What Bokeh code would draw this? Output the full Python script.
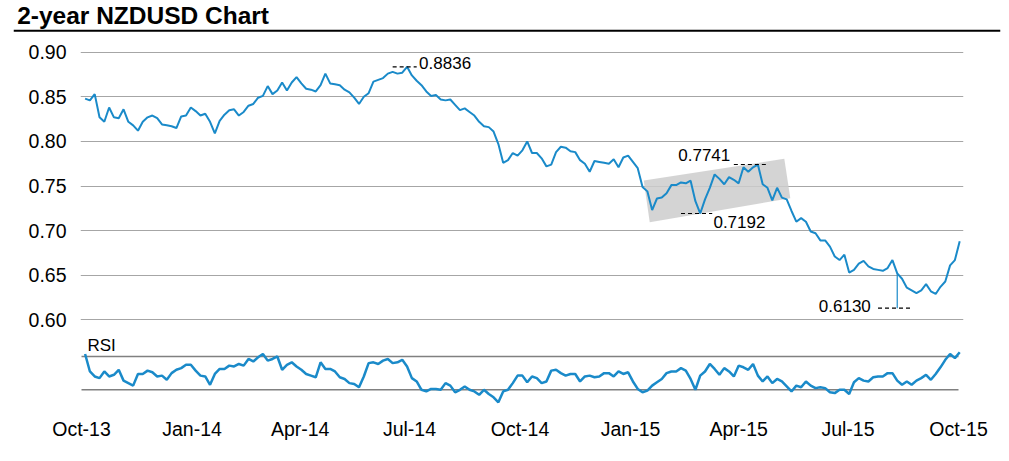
import pandas as pd
from bokeh.plotting import figure
from bokeh.models import Range1d, FixedTicker, PrintfTickFormatter, Label, Span
from bokeh.layouts import column
from bokeh.embed import file_html
from bokeh.resources import INLINE

# ---------------- data ----------------
title_text = "2-year NZDUSD Chart"
dates = pd.date_range("2013-10-04", periods=183, freq="4D")

price = [
    0.848, 0.846, 0.853, 0.827, 0.822, 0.838, 0.827, 0.826, 0.836, 0.822,
    0.818, 0.812, 0.822, 0.827, 0.829, 0.826, 0.819, 0.818, 0.817, 0.815,
    0.828, 0.829, 0.838, 0.834, 0.829, 0.831, 0.822, 0.809, 0.823, 0.830,
    0.835, 0.836, 0.829, 0.833, 0.840, 0.842, 0.849, 0.851, 0.862, 0.853,
    0.857, 0.866, 0.857, 0.866, 0.872, 0.865, 0.859, 0.858, 0.856, 0.863,
    0.876, 0.865, 0.864, 0.863, 0.858, 0.855, 0.849, 0.842, 0.850, 0.854,
    0.867, 0.869, 0.871, 0.876, 0.878, 0.876, 0.877, 0.8836, 0.874, 0.868,
    0.863, 0.856, 0.851, 0.852, 0.847, 0.846, 0.847, 0.841, 0.835, 0.837,
    0.833, 0.829, 0.822, 0.817, 0.816, 0.811, 0.797, 0.776, 0.779, 0.787,
    0.784, 0.790, 0.800, 0.787, 0.787, 0.781, 0.772, 0.774, 0.788, 0.794,
    0.793, 0.789, 0.788, 0.779, 0.775, 0.766, 0.778, 0.777, 0.776, 0.775,
    0.780, 0.771, 0.782, 0.784, 0.777, 0.770, 0.749, 0.744, 0.723, 0.736,
    0.737, 0.742, 0.751, 0.751, 0.754, 0.753, 0.756, 0.733, 0.7192, 0.735,
    0.748, 0.763, 0.758, 0.752, 0.760, 0.757, 0.753, 0.771, 0.766, 0.771,
    0.7741, 0.752, 0.748, 0.734, 0.748, 0.737, 0.735, 0.722, 0.710, 0.714,
    0.710, 0.699, 0.697, 0.689, 0.689, 0.682, 0.671, 0.667, 0.673, 0.653,
    0.656, 0.663, 0.666, 0.660, 0.657, 0.656, 0.655, 0.658, 0.667, 0.652,
    0.646, 0.636, 0.633, 0.630, 0.633, 0.640, 0.632, 0.629, 0.637, 0.643,
    0.661, 0.667, 0.688,
]

rsi = [
    73, 52, 46, 44, 52, 46, 48, 54, 41, 38,
    35, 49, 49, 53, 51, 46, 47, 42, 50, 54,
    56, 60, 60, 53, 47, 46, 36, 49, 55, 55,
    59, 58, 61, 59, 67, 64, 69, 73, 65, 67,
    70, 54, 60, 63, 58, 54, 49, 47, 45, 63,
    55, 55, 52, 45, 43, 38, 37, 33, 46, 62,
    63, 61, 65, 67, 62, 63, 66, 58, 44, 40,
    30, 28, 31, 31, 30, 38, 35, 27, 30, 34,
    30, 28, 24, 30, 25, 21, 15, 28, 30, 38,
    47, 47, 39, 46, 44, 38, 40, 53, 54, 50,
    47, 49, 49, 40, 46, 47, 45, 46, 50, 50,
    46, 52, 49, 51, 40, 31, 27, 29, 35, 39,
    43, 50, 52, 52, 56, 53, 43, 30, 47, 52,
    61, 55, 48, 56, 52, 46, 59, 57, 54, 61,
    47, 40, 46, 38, 43, 40, 34, 28, 35, 33,
    40, 35, 32, 33, 32, 27, 26, 30, 30, 25,
    39, 44, 41, 40, 45, 46, 46, 50, 50, 41,
    36, 40, 36, 41, 44, 48, 42, 49, 57, 66,
    73, 68, 75,
]

tick_dates = ["2013-10-01", "2014-01-01", "2014-04-01", "2014-07-01", "2014-10-01",
              "2015-01-01", "2015-04-01", "2015-07-01", "2015-10-01"]
tick_labels = ["Oct-13", "Jan-14", "Apr-14", "Jul-14", "Oct-14",
               "Jan-15", "Apr-15", "Jul-15", "Oct-15"]
y_ticks = [0.60, 0.65, 0.70, 0.75, 0.80, 0.85, 0.90]
rsi_levels = [30, 70]

levels = [0.8836, 0.7741, 0.7192, 0.6130]
flash_date = "2015-08-11"
flash_low = 0.6130

channel_dates = ["2015-01-12", "2015-05-09", "2015-05-14", "2015-01-17"]
channel_values = [0.7562, 0.7805, 0.7363, 0.7094]

# ---------------- styling ----------------
BLUE = "#1a8ac9"
FONT = "Liberation Sans"


def ms(d):
    return (pd.Timestamp(d) - pd.Timestamp("1970-01-01")) / pd.Timedelta(milliseconds=1)


# header with title and rule
hdr = figure(width=1009, height=34, x_range=Range1d(0, 1), y_range=Range1d(0, 1),
             x_axis_type=None, y_axis_type=None, toolbar_location=None,
             output_backend="svg", min_border_left=13, min_border_right=9,
             min_border_top=0, min_border_bottom=0, outline_line_color=None)
hdr.frame_align = False
hdr.add_layout(Label(x=0.0037, y=19 / 34, text=title_text, text_font=FONT,
                     text_font_size="24.5px", text_font_style="bold",
                     text_baseline="alphabetic", text_align="left", text_color="black"))
hdr.add_layout(Span(location=3.8 / 34, dimension="width", line_color="black", line_width=2))

# main chart
x0 = ms(tick_dates[0]) - 0.83 * 86400000
x1 = ms(tick_dates[-1]) + 4.16 * 86400000
p = figure(width=1009, height=418, x_axis_type="datetime",
           x_range=Range1d(x0, x1), y_range=Range1d(0.4961, 0.91312),
           toolbar_location=None, output_backend="svg",
           min_border_left=80, min_border_right=46, min_border_top=6, min_border_bottom=40,
           outline_line_color=None)
p.frame_align = False
p.extra_y_ranges = {"rsi": Range1d(2.7, 449.6)}

# channel box
p.patch(x=[pd.Timestamp(d) for d in channel_dates], y=channel_values,
        fill_color="#cccccc", fill_alpha=0.85, line_color=None)

# price
p.line(dates, price, line_color=BLUE, line_width=2)
flash_idx = list(dates).index(pd.Timestamp(flash_date))
p.segment(x0=[pd.Timestamp(flash_date)], y0=[flash_low],
          x1=[pd.Timestamp(flash_date)], y1=[price[flash_idx]],
          line_color=BLUE, line_width=1.2)

# RSI
p.segment(x0=[pd.Timestamp(tick_dates[0])] * 2, x1=[pd.Timestamp(tick_dates[-1])] * 2,
          y0=rsi_levels, y1=rsi_levels, y_range_name="rsi",
          line_color="#808080", line_width=1.5)
p.line(dates, rsi, y_range_name="rsi", line_color=BLUE, line_width=2.5)
p.add_layout(Label(x=ms("2013-10-06"), y=83, y_range_name="rsi", text="RSI",
                   text_font=FONT, text_font_size="17px", text_baseline="alphabetic",
                   text_color="black"))

# level annotations
dash_spans = [("2014-06-17", "2014-07-07"), ("2015-03-28", "2015-04-24"),
              ("2015-02-12", "2015-03-10"), ("2015-07-26", "2015-08-22")]
text_pos = [("2014-07-09", 0.0040, "left"), ("2015-03-25", 0.0112, "right"),
            ("2015-03-11", -0.0100, "left"), ("2015-07-20", 0.0030, "right")]
p.segment(x0=[pd.Timestamp(a) for a, b in dash_spans], x1=[pd.Timestamp(b) for a, b in dash_spans],
          y0=levels, y1=levels, line_color="black", line_width=1.2, line_dash="4 3")
for lv, (d, off, al) in zip(levels, text_pos):
    p.add_layout(Label(x=ms(d), y=lv + off, text=f"{lv:.4f}", text_font=FONT,
                       text_font_size="17px", text_baseline="middle", text_align=al,
                       text_color="black"))

# axes & grid
p.xaxis.ticker = FixedTicker(ticks=[ms(d) for d in tick_dates])
p.xaxis.major_label_overrides = {ms(d): lab for d, lab in zip(tick_dates, tick_labels)}
p.yaxis.ticker = FixedTicker(ticks=y_ticks)
p.yaxis.formatter = PrintfTickFormatter(format="%.2f")
for ax in (p.xaxis, p.yaxis):
    ax.axis_line_color = None
    ax.major_tick_line_color = None
    ax.minor_tick_line_color = None
    ax.major_tick_out = 0
    ax.major_tick_in = 0
    ax.major_label_text_font = FONT
    ax.major_label_text_font_size = "19.5px"
    ax.major_label_text_color = "black"
p.xaxis.major_label_standoff = 5
p.yaxis.major_label_standoff = 14
p.xgrid.grid_line_color = None
p.ygrid.ticker = FixedTicker(ticks=y_ticks)
p.ygrid.grid_line_color = "#a6a6a6"
p.ygrid.grid_line_width = 1.2

layout = column(hdr, p)
open("out.html", "w").write(file_html(layout, INLINE))
